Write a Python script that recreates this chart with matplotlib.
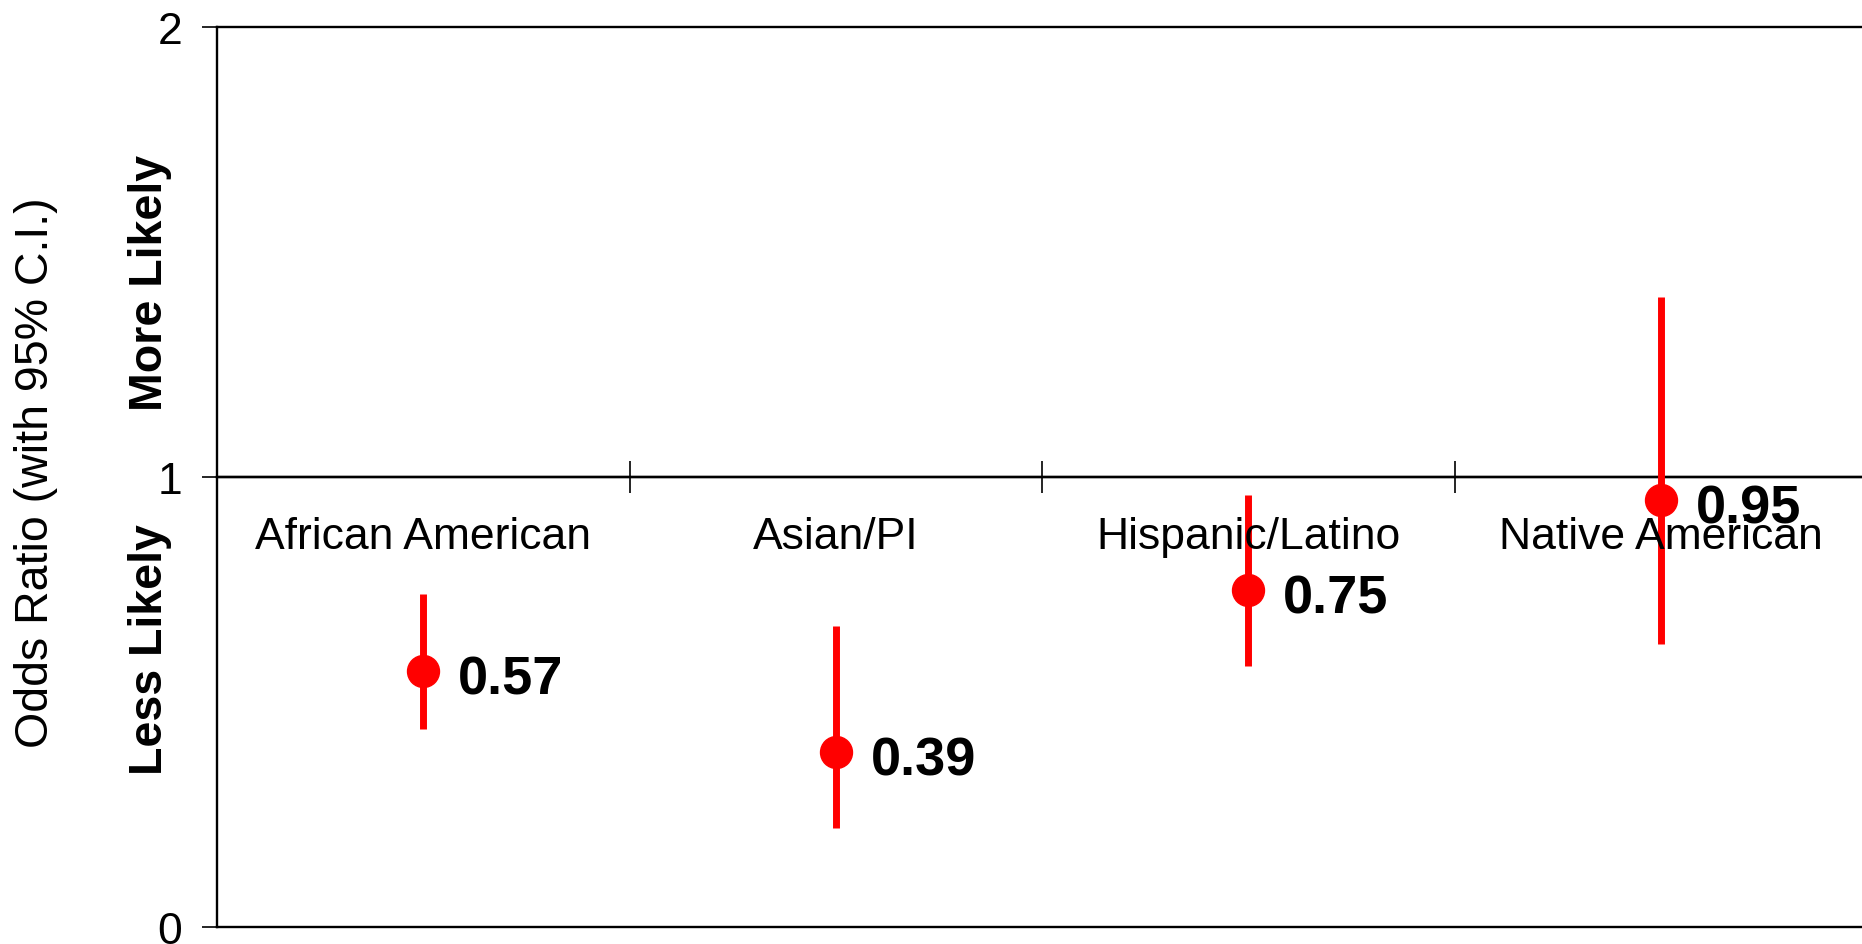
import matplotlib.pyplot as plt
import numpy as np

plt.rcParams['font.family'] = ['Liberation Sans', 'DejaVu Sans']

groups = ["African American", "Asian/PI", "Hispanic/Latino", "Native American"]
odds_ratio = [0.57, 0.39, 0.75, 0.95]
ci_low = [0.44, 0.22, 0.58, 0.63]
ci_high = [0.74, 0.67, 0.96, 1.40]
y_ticks = [0, 1, 2]

red = '#ff0000'

fig = plt.figure(figsize=(18.62, 9.45), dpi=100)
ax = fig.add_axes([217 / 1862, 1 - 928 / 945, (1867 - 217) / 1862, 900 / 945])

x = np.arange(1, len(groups) + 1)
yerr = [np.array(odds_ratio) - np.array(ci_low), np.array(ci_high) - np.array(odds_ratio)]
ax.errorbar(x, odds_ratio, yerr=yerr, fmt='o', color=red, ecolor=red,
            markersize=23, elinewidth=5, capsize=0, zorder=3)

# value labels to the right of each point
for xi, v in zip(x, odds_ratio):
    ax.annotate(f"{v:.2f}", (xi, v), xytext=(25, -16.5), textcoords='offset points',
                ha='left', va='baseline', fontsize=39, fontweight='bold', zorder=5)

# group names sit just under the reference line at 1
for xi, name in zip(x, groups):
    ax.text(xi, 0.842, name, ha='center', va='baseline', fontsize=32, zorder=4)

ax.set_xlim(0.5, len(groups) + 0.5)
ax.set_ylim(0, 2)

# horizontal lines at 0, 1 and 2
for yv in y_ticks:
    ax.axhline(yv, color='black', lw=1.7, zorder=2, clip_on=False)

ax.spines['top'].set_visible(False)
ax.spines['right'].set_visible(False)
ax.spines['left'].set_linewidth(1.7)
ax.spines['bottom'].set_position(('data', 1))
ax.spines['bottom'].set_linewidth(1.7)

ax.set_xticks(np.arange(1.5, len(groups), 1.0))
ax.set_xticklabels([])
ax.tick_params(axis='x', direction='inout', length=23, width=1.2)
ax.set_yticks(y_ticks)
ax.set_yticklabels([str(t) for t in y_ticks])
ax.tick_params(axis='y', direction='out', length=11, width=1.2, pad=14, labelsize=32)

fig.text(36 / 1862, 1 - 473 / 945, "Odds Ratio (with 95% C.I.)", rotation=90,
         ha='center', va='center', fontsize=33.5)
fig.text(150 / 1862, 1 - 283 / 945, "More Likely", rotation=90,
         ha='center', va='center', fontsize=33.5, fontweight='bold')
fig.text(150 / 1862, 1 - 650 / 945, "Less Likely", rotation=90,
         ha='center', va='center', fontsize=33.5, fontweight='bold')

fig.savefig('out.png', dpi=100)
